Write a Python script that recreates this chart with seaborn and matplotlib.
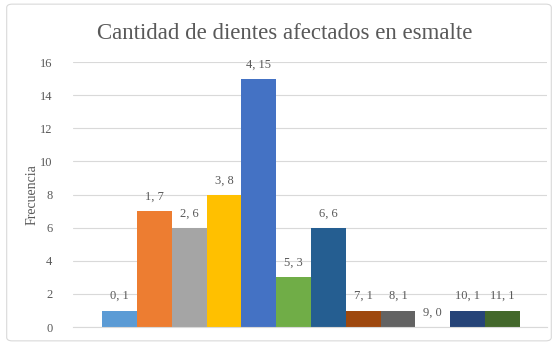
import matplotlib
matplotlib.use("Agg")
import matplotlib.pyplot as plt
import seaborn as sns
import pandas as pd
from matplotlib.patches import FancyBboxPatch

categories = ["0", "1", "2", "3", "4", "5", "6", "7", "8", "9", "10", "11"]
frecuencia = [1, 7, 6, 8, 15, 3, 6, 1, 1, 0, 1, 1]
colors = ["#5B9BD5", "#ED7D31", "#A5A5A5", "#FFC000", "#4472C4", "#70AD47",
          "#255E91", "#9E480E", "#636363", "#997300", "#264478", "#43682B"]
yticks = [0, 2, 4, 6, 8, 10, 12, 14, 16]

sns.set_theme(style="white")
plt.rcParams["font.family"] = ["Liberation Serif", "DejaVu Serif"]

df = pd.DataFrame({"cat": categories, "val": frecuencia})

fig = plt.figure(figsize=(5.58, 3.45), dpi=100)
ax = fig.add_axes([0.131, 0.052, 0.849, 0.768])
sns.barplot(data=df, x="cat", y="val", hue="cat", palette=colors,
            order=categories, hue_order=categories, dodge=False,
            width=1.0, legend=False, ax=ax, saturation=1, linewidth=0)

for cont, c, v in zip(ax.containers, categories, frecuencia):
    ax.bar_label(cont, labels=[f"{c}, {v}"], padding=6, fontsize=9, color="#595959")

ax.set_ylim(0, 16)
ax.set_xlim(-1.34, 12.28)
ax.set_yticks(yticks)
ax.set_yticklabels([str(t) for t in yticks], fontsize=9, color="#595959")
ax.set_xticks([])
ax.set_xlabel("")
ax.set_ylabel("Frecuencia", fontsize=10, color="#595959", labelpad=1)
ax.tick_params(axis="y", length=0, pad=15)
ax.grid(axis="y", color="#D9D9D9", linewidth=0.8)
ax.set_axisbelow(True)
for s in ["top", "right", "left"]:
    ax.spines[s].set_visible(False)
ax.spines["bottom"].set_color("#D9D9D9")
ax.spines["bottom"].set_linewidth(0.8)

fig.text(0.51, 0.903, "Cantidad de dientes afectados en esmalte",
         ha="center", va="center", fontsize=16.5, color="#595959")

border = FancyBboxPatch((0.012, 0.012), 0.976, 0.976, boxstyle="round,pad=0,rounding_size=0.01",
                        transform=fig.transFigure, fill=False, edgecolor="#D9D9D9", linewidth=0.8)
fig.patches.append(border)

fig.savefig("out.png", dpi=100)
